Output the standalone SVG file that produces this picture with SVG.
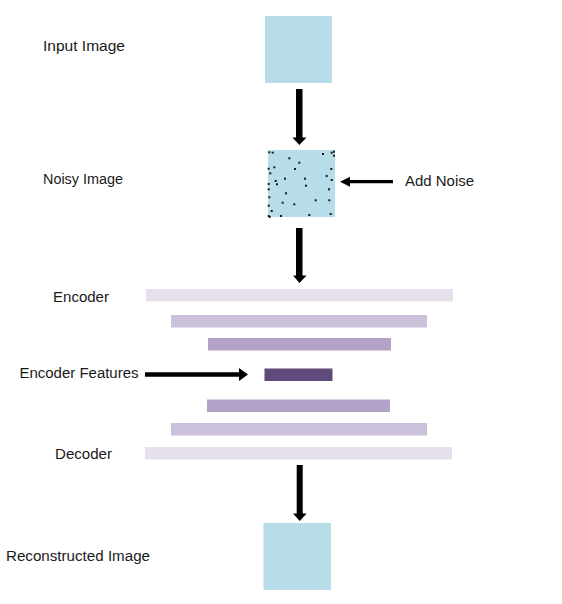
<svg xmlns="http://www.w3.org/2000/svg" width="562" height="604" viewBox="0 0 562 604">
<style>
.lbl{font-family:"Liberation Sans",Arial,sans-serif;font-size:14px;fill:#1a1a1a}
.img{fill:#B7DDE8}
.arr{fill:#000}
.d{fill:#1a1a1a}
</style>
<defs>
<rect id="dot" x="-1" y="-1" width="2" height="2"/>
</defs>
<rect width="562" height="604" fill="#fff"/>
<g id="input-image">
<rect class="img" x="265" y="16" width="67" height="67"/>
<text class="lbl" x="43" y="51" textLength="82" lengthAdjust="spacingAndGlyphs">Input Image</text>
</g>
<g id="noisy-image">
<rect class="img" x="268" y="150" width="67" height="67"/>
<g class="d">
<use href="#dot" x="269.3" y="152.3"/><use href="#dot" x="272.7" y="152.7"/><use href="#dot" x="289.3" y="158.3"/><use href="#dot" x="299.3" y="162.7"/><use href="#dot" x="323" y="154"/><use href="#dot" x="331.7" y="152.7"/><use href="#dot" x="334" y="151.7"/><use href="#dot" x="334" y="155.7"/><use href="#dot" x="274.3" y="167.3"/><use href="#dot" x="268.7" y="168.7"/><use href="#dot" x="295" y="169"/><use href="#dot" x="270.3" y="173.3"/><use href="#dot" x="331.3" y="169"/><use href="#dot" x="326.7" y="176"/><use href="#dot" x="331.7" y="180"/><use href="#dot" x="285" y="178.7"/><use href="#dot" x="305" y="178.7"/><use href="#dot" x="275.7" y="181"/><use href="#dot" x="277" y="184.3"/><use href="#dot" x="268.7" y="184"/><use href="#dot" x="306" y="185.7"/><use href="#dot" x="268.7" y="189.3"/><use href="#dot" x="329" y="189.3"/><use href="#dot" x="286" y="193.3"/><use href="#dot" x="269.3" y="197.3"/><use href="#dot" x="315.7" y="200.3"/><use href="#dot" x="329.3" y="200.3"/><use href="#dot" x="282.7" y="202.7"/><use href="#dot" x="294.3" y="204.3"/><use href="#dot" x="268.7" y="205.7"/><use href="#dot" x="271.7" y="211"/><use href="#dot" x="330.7" y="214"/><use href="#dot" x="309.3" y="215"/><use href="#dot" x="281" y="216"/><use href="#dot" x="269.7" y="217"/><use href="#dot" x="268.7" y="216"/>
</g>
<text class="lbl" x="43" y="184" textLength="80" lengthAdjust="spacingAndGlyphs">Noisy Image</text>
</g>
<g id="add-noise">
<text class="lbl" x="405" y="186" textLength="69" lengthAdjust="spacingAndGlyphs">Add Noise</text>
</g>
<g id="encoder">
<rect x="146" y="289" width="307" height="12.5" fill="#E6E0EC"/>
<rect x="171" y="315" width="256" height="12.5" fill="#CCC1DA"/>
<rect x="208" y="338" width="183" height="12.5" fill="#B3A2C7"/>
<text class="lbl" x="53" y="301.5" textLength="56" lengthAdjust="spacingAndGlyphs">Encoder</text>
</g>
<g id="encoder-features">
<rect x="264.5" y="368.5" width="68" height="12.5" fill="#604A7B"/>
<text class="lbl" x="19.5" y="377.5" textLength="119" lengthAdjust="spacingAndGlyphs">Encoder Features</text>
</g>
<g id="decoder">
<rect x="207" y="399.5" width="183" height="12.5" fill="#B3A2C7"/>
<rect x="171" y="423" width="256" height="12.5" fill="#CCC1DA"/>
<rect x="145" y="447" width="307" height="12.5" fill="#E6E0EC"/>
<text class="lbl" x="55" y="458.5" textLength="57" lengthAdjust="spacingAndGlyphs">Decoder</text>
</g>
<g id="reconstructed-image">
<rect class="img" x="263.5" y="523" width="67.5" height="67"/>
<text class="lbl" x="6" y="561" textLength="144" lengthAdjust="spacingAndGlyphs">Reconstructed Image</text>
</g>
<g id="connectors" class="arr">
<polygon points="296,89 302.5,89 302.5,137.5 306.5,137.5 299.3,145 292.5,137.5 296,137.5"/>
<polygon points="296,228 302.5,228 302.5,275.5 306.5,275.5 299.5,283 293,275.5 296,275.5"/>
<polygon points="296.7,465 302.7,465 302.7,513.5 306.7,513.5 299.7,521 293,513.5 296.7,513.5"/>
<polygon points="393,180 350,180 350,176.7 340,181.7 350,186.7 350,183.3 393,183.3"/>
<polygon points="145,372.3 239,372.3 239,368 248,374.5 239,381 239,376.7 145,376.7"/>
</g>
</svg>
